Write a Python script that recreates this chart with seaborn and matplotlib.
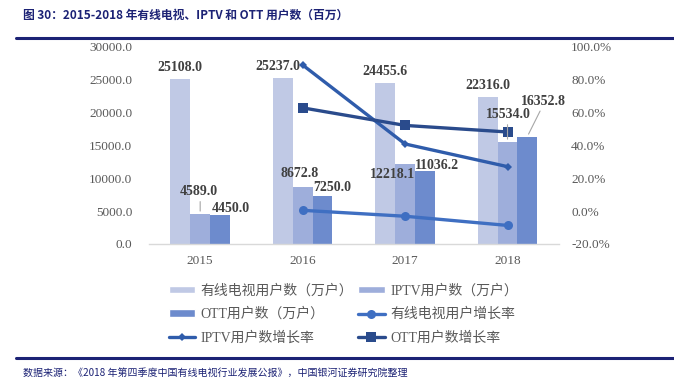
import matplotlib
matplotlib.use("Agg")
import matplotlib.pyplot as plt
import seaborn as sns
import pandas as pd
import numpy as np
from matplotlib.patches import Patch
from matplotlib.lines import Line2D

years = ["2015", "2016", "2017", "2018"]
cable_users = [25108.0, 25237.0, 24455.6, 22316.0]
iptv_users = [4589.0, 8672.8, 12218.1, 15534.0]
ott_users = [4450.0, 7250.0, 11036.2, 16352.8]
growth_years = ["2016", "2017", "2018"]
cable_growth = [0.5, -3.1, -8.7]
iptv_growth = [89.0, 40.9, 27.1]
ott_growth = [62.9, 52.2, 48.2]

bar_names = ["有线电视用户数（万户）", "IPTV用户数（万户）", "OTT用户数（万户）"]
line_names = ["有线电视用户增长率", "IPTV用户数增长率", "OTT用户数增长率"]
left_ticks = [0, 5000, 10000, 15000, 20000, 25000, 30000]
right_ticks = [-20, 0, 20, 40, 60, 80, 100]

bar_colors = ["#C0C9E5", "#9EAEDB", "#6D8BCD"]
line_colors = ["#3F6FC2", "#2F5CAB", "#2A4B8C"]
navy = "#1C2275"

sns.set_theme(style="white")
plt.rcParams["font.family"] = ["Liberation Serif", "Noto Sans CJK SC", "DejaVu Sans"]

df = pd.DataFrame({
    "year": years * 3,
    "value": cable_users + iptv_users + ott_users,
    "series": sum([[n] * 4 for n in bar_names], []),
})

fig = plt.figure(figsize=(6.74, 3.91), dpi=100)
ax = fig.add_axes([0.221, 0.376, 0.608, 0.504])

sns.barplot(data=df, x="year", y="value", hue="series", hue_order=bar_names,
            palette=bar_colors, width=0.58, ax=ax, legend=False, saturation=1,
            edgecolor="none")
ax.set_xlim(-0.5, 3.5)
ax.set_ylim(0, 30000)
ax.set_yticks(left_ticks)
ax.set_yticklabels([f"{v:.1f}" for v in left_ticks], color="#595959", fontsize=9.5,
                   family="Liberation Serif")
ax.tick_params(axis="x", labelsize=9.5, labelcolor="#595959", length=0, pad=8)
ax.tick_params(axis="y", length=0, pad=12)
ax.set_xlabel("")
ax.set_ylabel("")
for s in ["top", "right", "left"]:
    ax.spines[s].set_visible(False)
ax.spines["bottom"].set_color("#D9D9D9")
ax.spines["bottom"].set_linewidth(1)

# growth lines on right axis
ax2 = ax.twinx()
ax2.set_ylim(-20, 100)
ax2.set_yticks(right_ticks)
ax2.set_yticklabels([f"{v:.1f}%" for v in right_ticks], color="#595959", fontsize=9.5,
                    family="Liberation Serif")
ax2.tick_params(axis="y", length=0, pad=9)
for s in ["top", "right", "left", "bottom"]:
    ax2.spines[s].set_visible(False)
ax2.grid(False)
ax.grid(False)

gx = [years.index(y) for y in growth_years]
markers = ["o", "D", "s"]
msizes = [6.5, 4.5, 6.5]
for vals, col, mk, ms in zip([cable_growth, iptv_growth, ott_growth], line_colors, markers, msizes):
    sns.lineplot(x=gx, y=vals, ax=ax2, color=col, linewidth=2.4, marker=mk,
                 markersize=ms, markeredgewidth=0, legend=False)
ax2.set_ylabel("")
ax2.set_xlim(-0.5, 3.5)

# data labels
containers = ax.containers
offsets = [
    [(0, 12, None), (-5, 12, None), (0, 12, None), (0, 12, None)],
    [(-1, 22, "v"), (-3, 14, None), (-13, -11, None), (1, 27, "v")],
    [(11, 6, None), (10, 9, None), (12, 6, None), (16, 35, "d")],
]
values = [cable_users, iptv_users, ott_users]
for ci, cont in enumerate(containers):
    for bi, patch in enumerate(cont.patches):
        xc = patch.get_x() + patch.get_width() / 2
        top = patch.get_height()
        dx, dy, leader = offsets[ci][bi]
        ax.annotate(f"{values[ci][bi]:.1f}", xy=(xc, top), xytext=(dx, dy),
                    textcoords="offset pixels", ha="center", va="center",
                    fontsize=10, fontweight="bold", color="#404040",
                    family="Liberation Serif", zorder=6)
        if leader is not None:
            tx = 0 if leader == "v" else dx - 2
            ax2.annotate("", xy=(xc, top), xycoords=ax.transData,
                         xytext=(tx, dy - 7), textcoords="offset pixels",
                         arrowprops=dict(arrowstyle="-", color="#A6A6A6", lw=0.8),
                         zorder=10)

# legend (row-major order as in the reference)
handles = [
    Patch(facecolor=bar_colors[0], label=bar_names[0]),
    Patch(facecolor=bar_colors[1], label=bar_names[1]),
    Patch(facecolor=bar_colors[2], label=bar_names[2]),
    Line2D([], [], color=line_colors[0], lw=2.4, marker="o", ms=6.5, mew=0, label=line_names[0]),
    Line2D([], [], color=line_colors[1], lw=2.4, marker="D", ms=4.5, mew=0, label=line_names[1]),
    Line2D([], [], color=line_colors[2], lw=2.4, marker="s", ms=6.5, mew=0, label=line_names[2]),
]
order = [0, 2, 4, 1, 3, 5]
leg = fig.legend(handles=[handles[i] for i in order], ncol=2, loc="center left",
                 bbox_to_anchor=(0.240, 0.196), frameon=False, borderpad=0,
                 handlelength=1.9, handleheight=0.45, columnspacing=0.35,
                 labelspacing=0.72, handletextpad=0.4,
                 prop={"family": ["Liberation Serif", "Noto Sans CJK SC"], "size": 10})
for t in leg.get_texts():
    t.set_color("#595959")

# title & footer
fig.text(0.034, 0.962, "图 30：2015-2018 年有线电视、IPTV 和 OTT 用户数（百万）",
         fontsize=8.5, fontweight="bold", color=navy, va="center", ha="left",
         family=["Noto Sans CJK SC", "DejaVu Sans"])
fig.add_artist(Line2D([0.024, 1.0], [0.903, 0.903], color=navy, lw=2.2,
                      transform=fig.transFigure))
fig.add_artist(Line2D([0.024, 1.0], [0.084, 0.084], color=navy, lw=2.2,
                      transform=fig.transFigure))
fig.text(0.034, 0.047, "数据来源：《2018 年第四季度中国有线电视行业发展公报》，中国银河证券研究院整理",
         fontsize=7.2, style="italic", color=navy, va="center", ha="left",
         family=["Noto Sans CJK SC", "DejaVu Sans"])

fig.savefig("out.png", dpi=100)
